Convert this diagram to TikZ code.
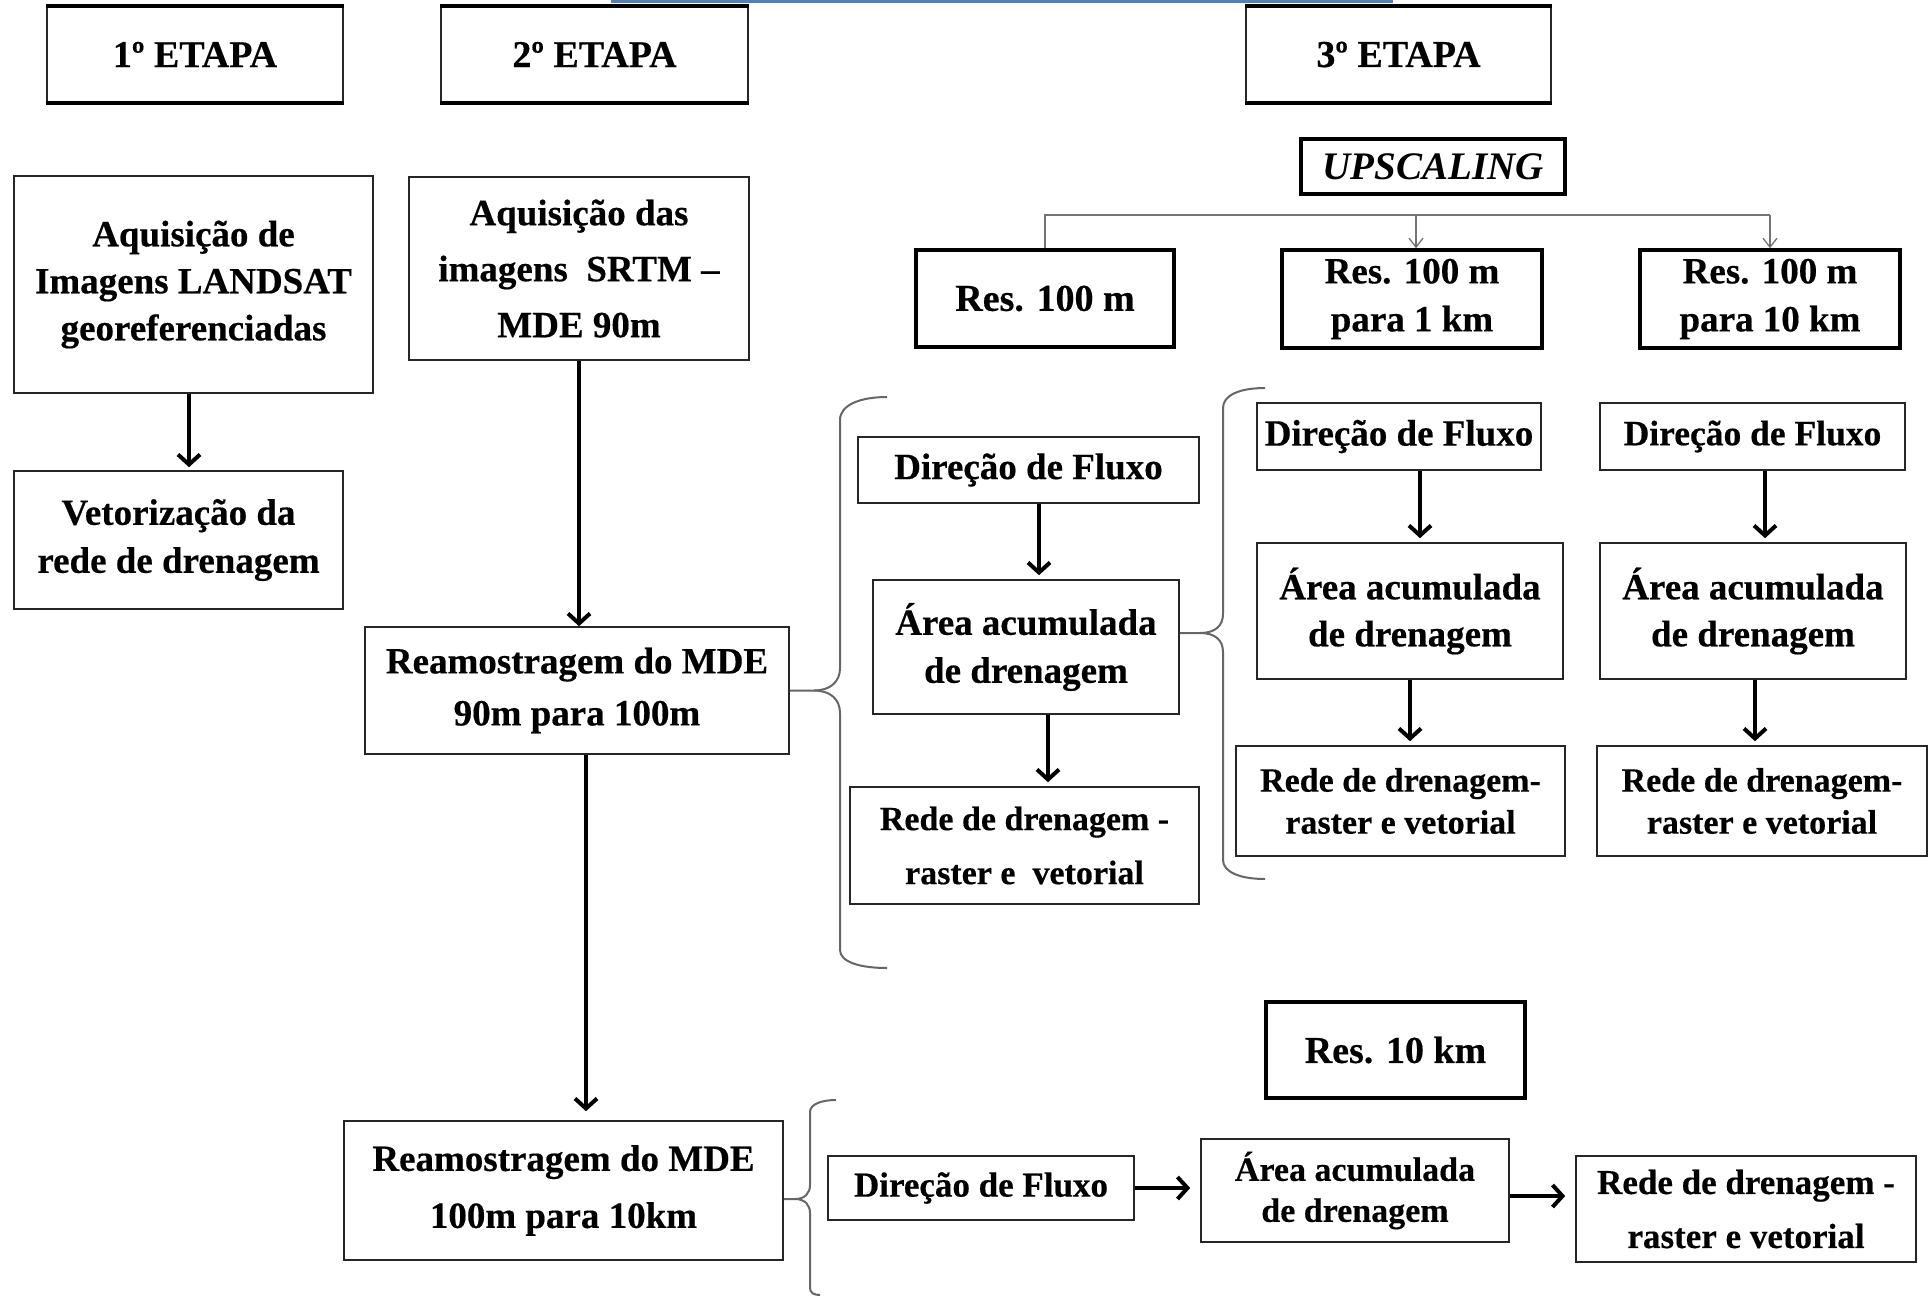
\documentclass[tikz,border=0pt]{standalone}
\usepackage{fontspec}
\setmainfont{Liberation Serif}[BoldFeatures={FakeBold=0.4}]
\usetikzlibrary{arrows.meta,calc}
\newcommand\myfs[2]{\fontsize{#1}{#2}\selectfont}
\definecolor{topblue}{RGB}{79,129,189}
\begin{document}
\begin{tikzpicture}[x=1pt,y=-1pt,
  box/.style={draw=black!85, line width=1.6pt, align=center, inner sep=0pt, font=\bfseries\myfs{37}{47}},
  thickbox/.style={box, line width=3.5pt, draw=black},
  arr/.style={line width=4.5pt, -{Straight Barb[length=10pt,width=22pt,line width=4pt]}},
  thinline/.style={draw=black!55, line width=1.5pt},
  thinarr/.style={thinline, -{Straight Barb[length=9pt,width=14pt,line width=1.3pt]}},
  brace/.style={draw=black!60, line width=2pt}]
\useasboundingbox (0,0) rectangle (1928,1296);
\fill[white] (0,0) rectangle (1928,1296);
\fill[topblue] (611,0) rectangle (1393,3);

% stage headers
\node[box, minimum width=296pt, minimum height=95pt, font=\bfseries\myfs{38}{46}] (e1) at (195,54.5) {1º ETAPA};
\node[box, minimum width=307pt, minimum height=95pt, font=\bfseries\myfs{38}{46}] (e2) at (594.5,54.5) {2º ETAPA};
\node[box, minimum width=305pt, minimum height=95pt, font=\bfseries\myfs{38}{46}] (e3) at (1398.5,54.5) {3º ETAPA};
\foreach \n in {e1,e2,e3} {
  \draw[line width=4pt] (\n.north west) -- (\n.north east);
  \draw[line width=4pt] (\n.south west) -- (\n.south east);
}

% upscaling
\node[thickbox, minimum width=264pt, minimum height=55pt, font=\bfseries\itshape\myfs{39}{46}] (ups) at (1433,166.5) {UPSCALING};
\node[thickbox, minimum width=258pt, minimum height=97pt, font=\bfseries\myfs{38}{48}] (r1) at (1045,298.5) {Res. 100 m};
\node[thickbox, minimum width=260pt, minimum height=98pt, font=\bfseries\myfs{37}{48}] (r2) at (1412,299) {Res. 100 m\\para 1 km};
\node[thickbox, minimum width=260pt, minimum height=98pt, font=\bfseries\myfs{37}{48}] (r3) at (1770,299) {Res. 100 m\\para 10 km};
\coordinate (hl) at (0,215);
\draw[thinline] (r1.north) |- (r3.north |- hl);
\draw[thinarr] ([xshift=4pt]r2.north |- hl) -- ([xshift=4pt]r2.north);
\draw[thinarr] (r3.north |- hl) -- (r3.north);

% stage 1
\node[box, minimum width=359pt, minimum height=217pt] (a1) at (193.5,284.5) {Aquisição de\\Imagens LANDSAT\\georeferenciadas};
\node[box, minimum width=329pt, minimum height=138pt, font=\bfseries\myfs{37}{48}] (a2) at (178.5,540) {Vetorização da\\rede de drenagem};
\draw[arr, shorten >=3pt] ([xshift=-4.5pt]a1.south) -- ([xshift=-4.5pt]a1.south |- a2.north);

% stage 2
\node[box, minimum width=340pt, minimum height=183pt, font=\bfseries\myfs{37}{56}] (b1) at (579,268.5) {Aquisição das\\imagens~ SRTM –\\MDE 90m};
\node[box, minimum width=424pt, minimum height=127pt, font=\bfseries\myfs{37}{52}] (b2) at (577,690.5) {Reamostragem do MDE\\90m para 100m};
\node[box, minimum width=439pt, minimum height=139pt, font=\bfseries\myfs{37}{57}] (b3) at (563.5,1190.5) {Reamostragem do MDE\\100m para 10km};
\draw[arr] (b1.south) -- (b1.south |- b2.north);
\draw[arr, shorten >=9pt] ([xshift=9pt]b2.south) -- ([xshift=9pt]b2.south |- b3.north);

% group A (100 m)
\node[box, minimum width=341pt, minimum height=66pt] (dA) at (1028.5,470) {Direção de Fluxo};
\node[box, minimum width=306pt, minimum height=134pt, font=\bfseries\myfs{37}{48}] (aA) at (1026,647) {Área acumulada\\de drenagem};
\node[box, minimum width=349pt, minimum height=117pt, font=\bfseries\myfs{34}{54}] (rA) at (1024.5,845.5) {Rede de drenagem -\\raster e~ vetorial};
\draw[arr, shorten >=4pt] ([xshift=10.5pt]dA.south) -- ([xshift=10.5pt]dA.south |- aA.north);
\draw[arr, shorten >=4pt] ([xshift=22pt]aA.south) -- ([xshift=22pt]aA.south |- rA.north);

% group B (1 km)
\node[box, minimum width=284pt, minimum height=67pt] (dB) at (1399,436.5) {Direção de Fluxo};
\node[box, minimum width=306pt, minimum height=136pt] (aB) at (1410,611) {Área acumulada\\de drenagem};
\node[box, minimum width=329pt, minimum height=110pt, font=\bfseries\myfs{34}{42}] (rB) at (1400.5,801) {Rede de drenagem-\\raster e vetorial};
\draw[arr, shorten >=4pt] ([xshift=21pt]dB.south) -- ([xshift=21pt]dB.south |- aB.north);
\draw[arr, shorten >=4pt] (aB.south) -- (aB.south |- rB.north);

% group C (10 km)
\node[box, minimum width=305pt, minimum height=67pt, font=\bfseries\myfs{35.5}{46}] (dC) at (1752.5,436.5) {Direção de Fluxo};
\node[box, minimum width=306pt, minimum height=136pt] (aC) at (1753,611) {Área acumulada\\de drenagem};
\node[box, minimum width=330pt, minimum height=110pt, font=\bfseries\myfs{34}{42}] (rC) at (1762,801) {Rede de drenagem-\\raster e vetorial};
\draw[arr, shorten >=4pt] ([xshift=12.5pt]dC.south) -- ([xshift=12.5pt]dC.south |- aC.north);
\draw[arr, shorten >=4pt] ([xshift=2pt]aC.south) -- ([xshift=2pt]aC.south |- rC.north);

% braces
\draw[brace] (b2.east) -- (814,690.5) .. controls (830,690.5) and (840,682) .. (840,668) -- (840,420) .. controls (840,405) and (860,397) .. (887,397);
\draw[brace] (814,690.5) .. controls (830,690.5) and (840,699) .. (840,713) -- (840,950) .. controls (840,962) and (860,968) .. (887,968);
\draw[brace] ([yshift=14pt]aA.east) -- (1200,633) .. controls (1215,633) and (1223,626) .. (1223,614) -- (1223,408) .. controls (1223,395) and (1240,388) .. (1265,388);
\draw[brace] (1200,633) .. controls (1215,633) and (1223,640) .. (1223,652) -- (1223,860) .. controls (1223,872) and (1240,879) .. (1265,879);

% bottom row (10 km)
\node[thickbox, minimum width=259pt, minimum height=96pt, font=\bfseries\myfs{38}{46}] (r10) at (1395.5,1050) {Res. 10 km};
\node[box, minimum width=306pt, minimum height=64pt, font=\bfseries\myfs{35}{44}] (dD) at (981,1188) {Direção de Fluxo};
\node[box, minimum width=308pt, minimum height=103pt, font=\bfseries\myfs{34}{41}] (aD) at (1355,1190.5) {Área acumulada\\de drenagem};
\node[box, minimum width=340pt, minimum height=106pt, font=\bfseries\myfs{35}{54}] (rD) at (1746,1209) {Rede de drenagem -\\raster e vetorial};
\draw[arr, shorten >=10pt] (dD.east) -- (aD.west |- dD.east);
\draw[arr, shorten >=10pt] ([yshift=-5.5pt]aD.east) -- ([yshift=-5.5pt]aD.east -| rD.west);
\draw[brace] ([yshift=-8.5pt]b3.east) -- (795,1199) .. controls (805,1199) and (810,1193) .. (810,1185) -- (810,1112) .. controls (810,1104) and (822,1100) .. (836,1100);
\draw[brace] (795,1199) .. controls (805,1199) and (810,1205) .. (810,1213) -- (810,1288) .. controls (810,1293) and (814,1295) .. (820,1295);
\end{tikzpicture}
\end{document}
